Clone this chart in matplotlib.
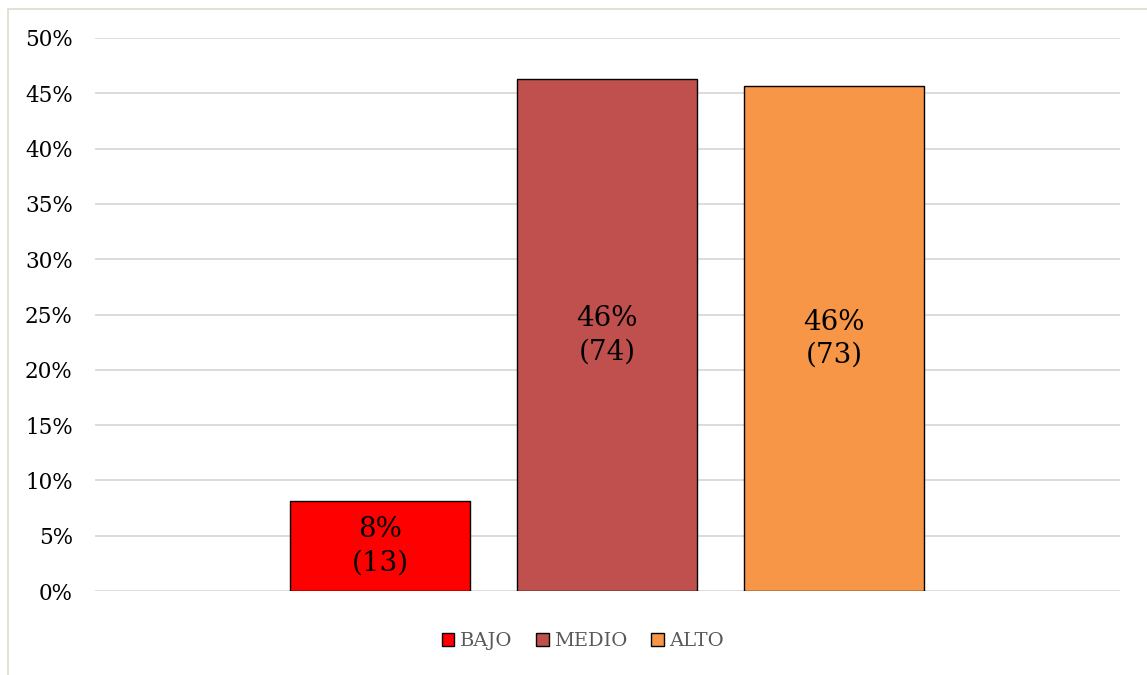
import matplotlib.pyplot as plt
from matplotlib.patches import Rectangle
import numpy as np

# Datos
categorias = ["BAJO", "MEDIO", "ALTO"]
conteos = [13, 74, 73]
colores = ["#ff0000", "#c0504d", "#f79646"]
yticks = [0, 0.05, 0.10, 0.15, 0.20, 0.25, 0.30, 0.35, 0.40, 0.45, 0.50]

total = sum(conteos)
porcentajes = [c / total for c in conteos]

plt.rcParams['font.family'] = ['DejaVu Serif']

fig = plt.figure(figsize=(11.47, 6.75), dpi=100)
ax = fig.add_axes([95 / 1147, 1 - 591 / 675, 1025 / 1147, 553 / 675])

# Marco exterior
fig.patches.append(Rectangle((8 / 1147, -0.1), 1.2, 1 - 9 / 675 + 0.1,
                             transform=fig.transFigure, fill=False,
                             edgecolor="#dedbc9", linewidth=1.2))

x = np.arange(len(categorias))
barras = ax.bar(x, porcentajes, width=180 / 227, color=colores,
                edgecolor="black", linewidth=1.0, label=categorias, zorder=3)

# Etiquetas dentro de las barras
for xi, p, c in zip(x, porcentajes, conteos):
    ax.text(xi, p / 2, f"{round(p * 100):.0f}%\n({c})",
            ha="center", va="center", fontsize=20, color="black",
            linespacing=1.3, zorder=4)

ax.set_xlim(1 - 512 / 227, 1 + 513 / 227)
ax.set_ylim(0, 0.5)
ax.set_yticks(yticks)
ax.set_yticklabels([f"{round(t * 100)}%" for t in yticks], fontsize=15.5)
ax.set_xticks([])
ax.tick_params(axis="y", length=0, pad=16)
ax.grid(axis="y", color="#d9d9d9", linewidth=1.3, zorder=0)
ax.set_axisbelow(True)
for s in ax.spines.values():
    s.set_visible(False)

leg = ax.legend(handles=list(barras), labels=categorias, loc="center",
                bbox_to_anchor=(583 / 1147, 1 - 641 / 675),
                bbox_transform=fig.transFigure, ncol=3, frameon=False,
                fontsize=14, handlelength=0.65, handleheight=0.65,
                handletextpad=0.3, columnspacing=1.2)
for t in leg.get_texts():
    t.set_color("#595959")

fig.savefig("out.png", dpi=100)
